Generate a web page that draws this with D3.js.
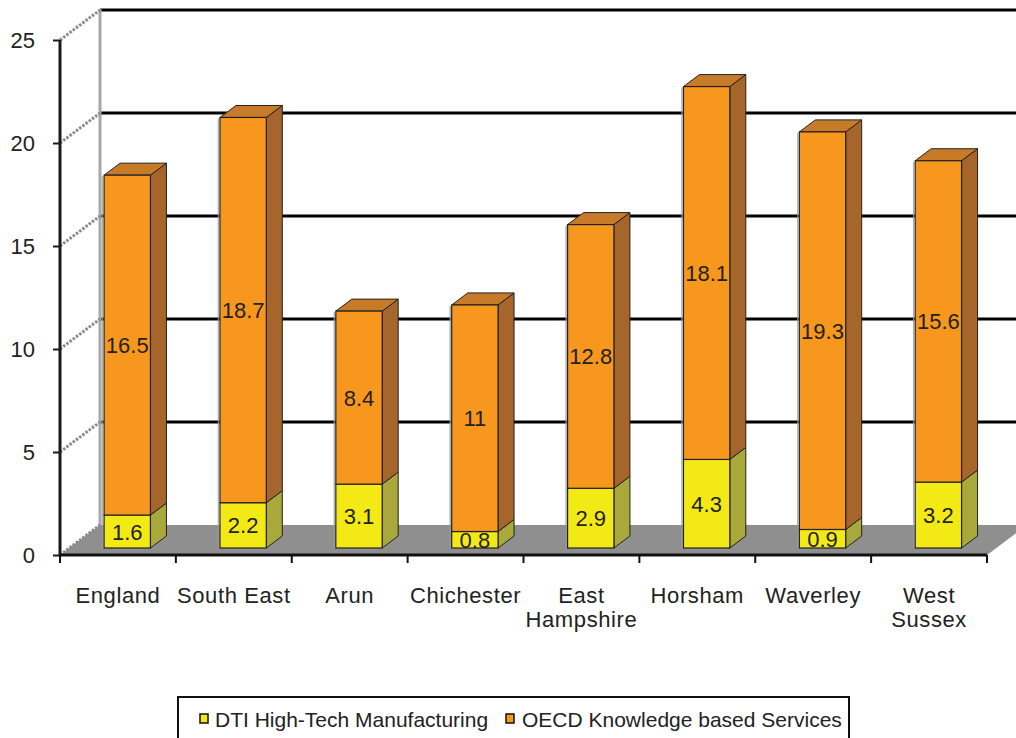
<!DOCTYPE html>
<html>
<head>
<meta charset="utf-8">
<script src="https://cdn.jsdelivr.net/npm/d3@7"></script>
<style>
  html, body { margin: 0; padding: 0; background: #fff; }
  svg { display: block; font-family: "Liberation Sans", Arial, sans-serif; }
</style>
</head>
<body>
<svg id="chart" width="1016" height="738"></svg>
<script>
// Knowledge-economy employment share by area (%)
const categories = ["England", "South East", "Arun", "Chichester", "East Hampshire", "Horsham", "Waverley", "West Sussex"];
const categoryLines = [["England"], ["South East"], ["Arun"], ["Chichester"], ["East", "Hampshire"], ["Horsham"], ["Waverley"], ["West", "Sussex"]];
const dtiHighTech = [1.6, 2.2, 3.1, 0.8, 2.9, 4.3, 0.9, 3.2];
const oecdServices = [16.5, 18.7, 8.4, 11, 12.8, 18.1, 19.3, 15.6];
const seriesNames = ["DTI High-Tech Manufacturing", "OECD Knowledge based Services"];
const yTicks = [0, 5, 10, 15, 20, 25];

const svg = d3.select("#chart");
const W = 1016;

// plot geometry (front plane) and 3D depth offset
const left = 60, right = 987, base = 555, topY = 40;
const DX = 40, DY = -30;          // full depth of the chart box
const zFront = 0.233, zDepth = 0.4; // bar position within the depth

const y = d3.scaleLinear().domain([0, 25]).range([base, topY]);
const x = d3.scaleBand().domain(categories).range([left, right]).paddingInner(0.6).paddingOuter(0.3);
const xEdge = d3.scaleLinear().domain([0, categories.length]).range([left, right]);

const colors = {
  dti:  { front: "#F3E915", side: "#A9A83A", top: "#C9C23A" },
  oecd: { front: "#F7971D", side: "#A6652A", top: "#C77A28" }
};

// floor
svg.append("polygon")
  .attr("points", [[left, base], [left + DX, base + DY], [right + DX, base + DY], [right, base]].map(p => p.join(",")).join(" "))
  .attr("fill", "#8F8F8F");

// back wall gridlines
svg.append("g").selectAll("line").data(yTicks.filter(d => d > 0)).join("line")
  .attr("x1", left + DX).attr("x2", W + 20)
  .attr("y1", d => y(d) + DY).attr("y2", d => y(d) + DY)
  .attr("stroke", "#000").attr("stroke-width", 3);

// back wall left edge
svg.append("line")
  .attr("x1", left + DX).attr("x2", left + DX)
  .attr("y1", y(25) + DY - 1).attr("y2", base + DY)
  .attr("stroke", "#A8A8A8").attr("stroke-width", 3);

// side wall gridlines (dotted diagonals)
svg.append("g").selectAll("line").data(yTicks).join("line")
  .attr("x1", left).attr("y1", d => y(d))
  .attr("x2", left + DX).attr("y2", d => y(d) + DY)
  .attr("stroke", "#8A8A8A").attr("stroke-width", 3)
  .attr("stroke-dasharray", "2.5,1.5");

// stacked bars
const rows = categories.map((c, i) => ({ cat: c, dti: dtiHighTech[i], oecd: oecdServices[i] }));
const stack = d3.stack().keys(["dti", "oecd"])(rows);

const bw = x.bandwidth();
const ox = zFront * DX, oy = zFront * DY;
const sx = zDepth * DX, sy = zDepth * DY;

const barG = svg.append("g");
categories.forEach((c, i) => {
  const g = barG.append("g");
  const x0 = x(c) + ox, x1 = x0 + bw;
  stack.forEach((layer, li) => {
    const key = layer.key;
    const [v0, v1] = layer[i];
    const yb = y(v0) + oy, yt = y(v1) + oy;
    const col = colors[key];
    // right side face
    g.append("polygon")
      .attr("points", [[x1, yb], [x1 + sx, yb + sy], [x1 + sx, yt + sy], [x1, yt]].map(p => p.join(",")).join(" "))
      .attr("fill", col.side).attr("stroke", "#222").attr("stroke-width", 1).attr("stroke-linejoin", "round");
    // top face on the uppermost segment
    if (li === stack.length - 1) {
      g.append("polygon")
        .attr("points", [[x0, yt], [x0 + sx, yt + sy], [x1 + sx, yt + sy], [x1, yt]].map(p => p.join(",")).join(" "))
        .attr("fill", col.top).attr("stroke", "#222").attr("stroke-width", 1).attr("stroke-linejoin", "round");
    }
    // front face
    g.append("rect")
      .attr("x", x0).attr("y", yt).attr("width", bw).attr("height", yb - yt)
      .attr("fill", col.front).attr("stroke", "#222").attr("stroke-width", 1.2);
  });
  // soft edge on the left of each bar
  g.append("line")
    .attr("x1", x0 - 1.5).attr("x2", x0 - 1.5)
    .attr("y1", y(dtiHighTech[i] + oecdServices[i]) + oy + 1).attr("y2", base + oy)
    .attr("stroke", "#9A9A9A").attr("stroke-width", 1.5).attr("opacity", 0.8);
  // value labels
  stack.forEach(layer => {
    const [v0, v1] = layer[i];
    const val = v1 - v0;
    g.append("text")
      .attr("x", x0 + bw / 2)
      .attr("y", (y(v0) + y(v1)) / 2 + oy + 8)
      .attr("text-anchor", "middle")
      .attr("font-size", 22)
      .attr("fill", "#222")
      .text(d3.format("~g")(val));
  });
});

// value axis
const yAxis = d3.axisLeft(y).tickValues(yTicks).tickSize(7).tickPadding(0);
const yg = svg.append("g").attr("transform", `translate(${left},0)`).call(yAxis);
yg.select(".domain").attr("stroke", "#1a1a1a").attr("stroke-width", 3)
  .attr("d", `M0,${y(25)}V${base}`);
yg.selectAll(".tick line").attr("stroke", "#1a1a1a").attr("stroke-width", 2);
yg.selectAll(".tick text")
  .attr("x", -25).attr("dy", "0.36em")
  .attr("font-size", 22).attr("fill", "#222")
  .attr("font-family", "Liberation Sans, Arial, sans-serif");

// category axis
svg.append("line")
  .attr("x1", left).attr("x2", right).attr("y1", base).attr("y2", base)
  .attr("stroke", "#111").attr("stroke-width", 3);
svg.append("g").selectAll("line").data(d3.range(categories.length + 1)).join("line")
  .attr("x1", d => xEdge(d)).attr("x2", d => xEdge(d))
  .attr("y1", base).attr("y2", base + 8)
  .attr("stroke", "#111").attr("stroke-width", 2);

const catText = svg.append("g").selectAll("text").data(categoryLines).join("text")
  .attr("text-anchor", "middle")
  .attr("font-size", 22)
  .attr("letter-spacing", 0.6)
  .attr("fill", "#222");
catText.each(function(lines, i) {
  const t = d3.select(this);
  lines.forEach((ln, k) => {
    t.append("tspan")
      .attr("x", xEdge(i + 0.5))
      .attr("y", 603 + k * 24)
      .text(ln);
  });
});

// legend
const lg = svg.append("g");
lg.append("rect")
  .attr("x", 178).attr("y", 697).attr("width", 671).attr("height", 70)
  .attr("fill", "#fff").attr("stroke", "#111").attr("stroke-width", 2);
const legendItems = [
  { name: seriesNames[0], color: colors.dti.front, sx: 200, tx: 215 },
  { name: seriesNames[1], color: colors.oecd.front, sx: 506, tx: 522 }
];
legendItems.forEach(it => {
  lg.append("rect")
    .attr("x", it.sx).attr("y", 714).attr("width", 8).attr("height", 9)
    .attr("fill", it.color).attr("stroke", "#111").attr("stroke-width", 1.5);
  lg.append("text")
    .attr("x", it.tx).attr("y", 727)
    .attr("font-size", 21)
    .attr("fill", "#222")
    .text(it.name);
});
</script>
</body>
</html>
